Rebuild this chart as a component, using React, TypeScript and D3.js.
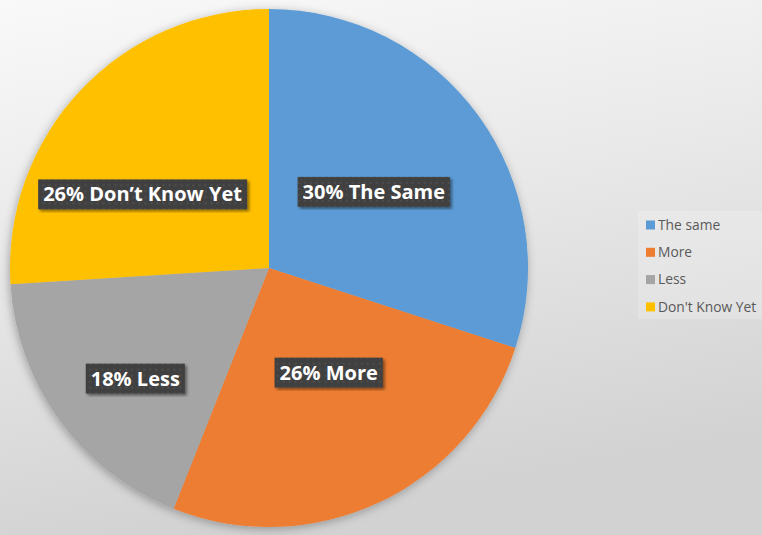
import React, { useEffect, useRef } from "react";
import { select, pie, arc, PieArcDatum } from "d3";

// chart data
const categories = ["The same", "More", "Less", "Don't Know Yet"];
const shares = [30, 26, 18, 26];
const labelTexts = ["30% The Same", "26% More", "18% Less", "26% Don\u2019t Know Yet"];
const colors = ["#5B9BD5", "#ED7D31", "#A5A5A5", "#FFC000"];

// label placement: radius factor and angle nudge (deg) from slice middle
const labelLayout = [
    { r: 0.5, da: 0 },
    { r: 0.465, da: -4.5 },
    { r: 0.67, da: -3.6 },
    { r: 0.565, da: -13 },
];

const W = 762;
const H = 535;

const App = () => {
    const ref = useRef<SVGSVGElement>(null);

    useEffect(() => {
        const svg = select(ref.current);
        svg.selectAll("*").remove();

        const defs = svg.append("defs");

        // background gradient
        const bg = defs
            .append("linearGradient")
            .attr("id", "bg")
            .attr("x1", 0)
            .attr("y1", 0)
            .attr("x2", 0.25)
            .attr("y2", 1);
        bg.append("stop").attr("offset", "0%").attr("stop-color", "#f9f9f9");
        bg.append("stop").attr("offset", "45%").attr("stop-color", "#e9e9e9");
        bg.append("stop").attr("offset", "100%").attr("stop-color", "#d2d2d2");

        // pie shadow
        const sh = defs
            .append("filter")
            .attr("id", "pieShadow")
            .attr("x", "-10%")
            .attr("y", "-10%")
            .attr("width", "120%")
            .attr("height", "120%");
        sh.append("feDropShadow")
            .attr("dx", -1)
            .attr("dy", 2)
            .attr("stdDeviation", 5)
            .attr("flood-color", "#000")
            .attr("flood-opacity", 0.3);

        // label box shadow
        const lsh = defs.append("filter").attr("id", "boxShadow");
        lsh.append("feDropShadow")
            .attr("dx", 2)
            .attr("dy", 2)
            .attr("stdDeviation", 1.5)
            .attr("flood-color", "#000")
            .attr("flood-opacity", 0.45);

        // dotted label fill
        const pat = defs
            .append("pattern")
            .attr("id", "dots")
            .attr("width", 6)
            .attr("height", 6)
            .attr("patternUnits", "userSpaceOnUse");
        pat.append("rect").attr("width", 6).attr("height", 6).attr("fill", "#404040");
        pat.append("rect")
            .attr("x", 2)
            .attr("y", 2)
            .attr("width", 2)
            .attr("height", 2)
            .attr("fill", "#4d4d4d");

        svg.append("rect").attr("width", W).attr("height", H).attr("fill", "url(#bg)");

        // title sits above the visible area; only the descender of its last letter shows
        svg.append("text")
            .attr("x", 86)
            .attr("y", -10)
            .attr("font-family", "Open Sans, sans-serif")
            .attr("font-size", 42)
            .attr("fill", "#5B9BD5")
            .text("g");

        const cx = 269;
        const cy = 268;
        const radius = 259;

        const pieGen = pie<number>().sort(null).value((d) => d);
        const arcs = pieGen(shares);
        const arcGen = arc<PieArcDatum<number>>().innerRadius(0).outerRadius(radius);

        const g = svg.append("g").attr("transform", `translate(${cx},${cy})`);

        g.append("g")
            .attr("filter", "url(#pieShadow)")
            .selectAll("path")
            .data(arcs)
            .join("path")
            .attr("d", arcGen)
            .attr("fill", (_, i) => colors[i]);

        // data labels
        arcs.forEach((a, i) => {
            const lay = labelLayout[i];
            const mid = (a.startAngle + a.endAngle) / 2 + (lay.da * Math.PI) / 180;
            const lx = Math.sin(mid) * radius * lay.r;
            const ly = -Math.cos(mid) * radius * lay.r;

            const lg = g.append("g").attr("transform", `translate(${lx},${ly})`);
            const rect = lg.append("rect").attr("fill", "url(#dots)").attr("filter", "url(#boxShadow)");
            const t = lg
                .append("text")
                .attr("text-anchor", "middle")
                .attr("dy", "0.35em")
                .attr("font-family", "Open Sans, sans-serif")
                .attr("font-weight", "bold")
                .attr("font-size", 20)
                .attr("fill", "#ffffff")
                .text(labelTexts[i]);
            const bb = (t.node() as SVGTextElement).getBBox();
            rect.attr("x", bb.x - 5)
                .attr("y", -15)
                .attr("width", bb.width + 10)
                .attr("height", 30);
        });

        // legend
        const leg = svg.append("g").attr("transform", "translate(638,211)");
        leg.append("rect")
            .attr("width", 130)
            .attr("height", 108)
            .attr("fill", "#ffffff")
            .attr("opacity", 0.2);
        categories.forEach((c, i) => {
            const row = leg.append("g").attr("transform", `translate(8,${14 + i * 27.3})`);
            row.append("rect").attr("x", 0).attr("y", -4.5).attr("width", 9).attr("height", 9).attr("fill", colors[i]);
            row.append("text")
                .attr("x", 12)
                .attr("dy", "0.35em")
                .attr("font-family", "Open Sans, sans-serif")
                .attr("font-size", 13.8)
                .attr("fill", "#595959")
                .text(c);
        });
    }, []);

    return (
        <svg
            ref={ref}
            width={W}
            height={H}
            style={{ position: "absolute", left: 0, top: 0, display: "block" }}
        />
    );
};

export default App;
